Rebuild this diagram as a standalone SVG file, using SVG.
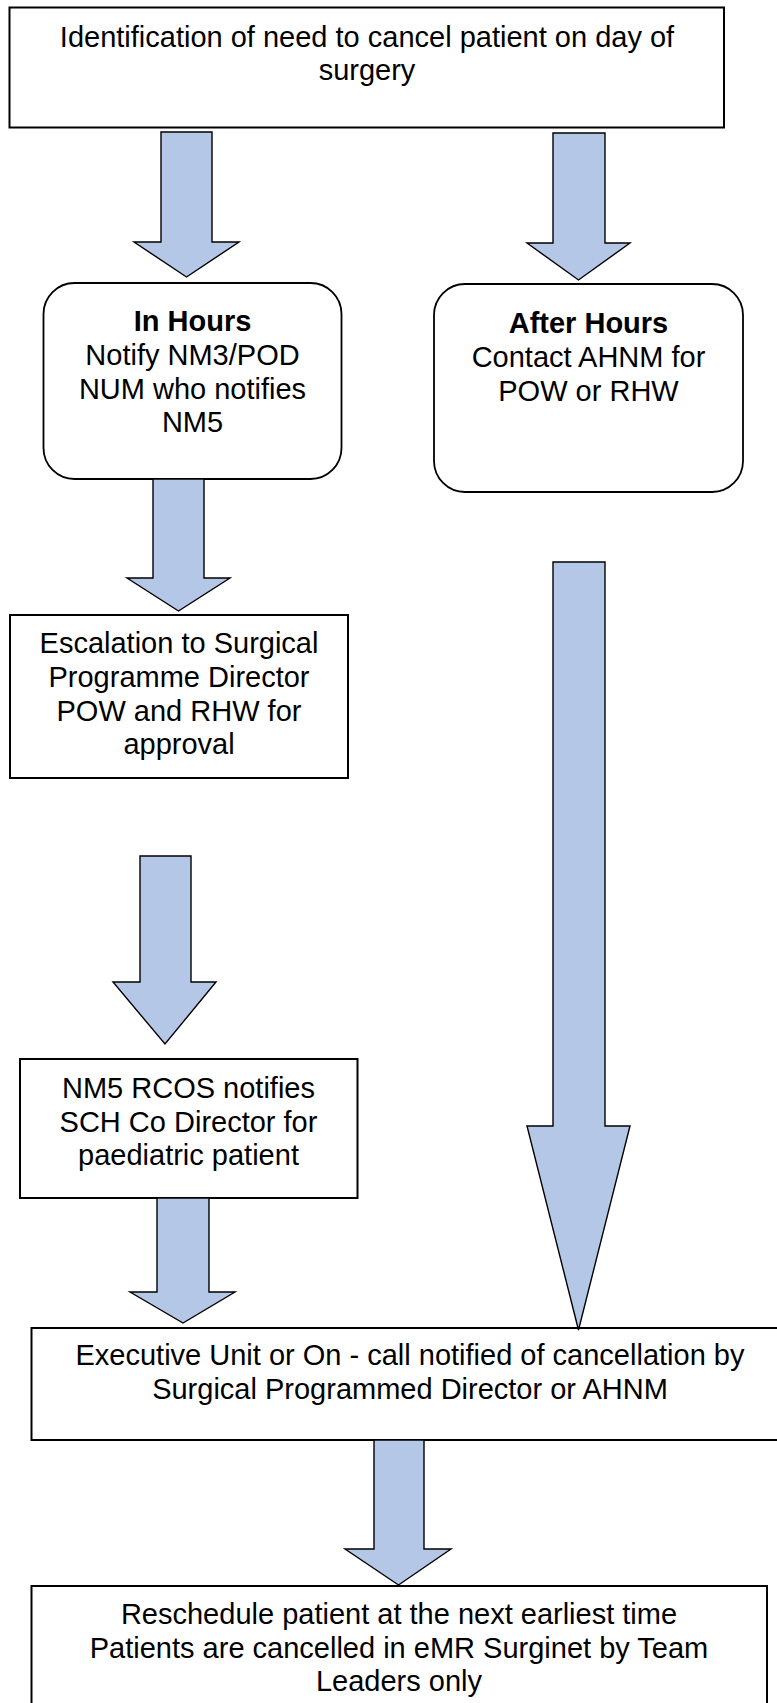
<svg xmlns="http://www.w3.org/2000/svg" width="777" height="1703" viewBox="0 0 777 1703">
<style>
.box{fill:#ffffff;stroke:#000000;stroke-width:2}
.rbox{fill:#ffffff;stroke:#000000;stroke-width:1.8}
.arr{fill:#B4C7E7;stroke:#000000;stroke-width:1.4;stroke-linejoin:miter}
text{font-family:"Liberation Sans",Arial,sans-serif;font-size:29px;fill:#000000;text-anchor:middle}
.b{font-weight:bold}
</style>
<rect width="777" height="1703" fill="#ffffff"/>
<g id="node-identify">
<rect class="box" x="9.5" y="7.5" width="714.5" height="120"/>
<text x="367" y="46.5">Identification of need to cancel patient on day of</text>
<text x="367" y="80">surgery</text>
</g>
<g id="node-inhours">
<rect class="rbox" x="43.5" y="283" width="298" height="196" rx="31" ry="31"/>
<text class="b" x="192.5" y="331">In Hours</text>
<text x="192.5" y="365">Notify NM3/POD</text>
<text x="192.5" y="398.5">NUM who notifies</text>
<text x="192.5" y="432">NM5</text>
</g>
<g id="node-afterhours">
<rect class="rbox" x="434" y="284" width="309" height="208" rx="31" ry="31"/>
<text class="b" x="588.5" y="333">After Hours</text>
<text x="588.5" y="367">Contact AHNM for</text>
<text x="588.5" y="400.5">POW or RHW</text>
</g>
<g id="node-escalation">
<rect class="box" x="10" y="615" width="338" height="163"/>
<text x="179" y="653">Escalation to Surgical</text>
<text x="179" y="687">Programme Director</text>
<text x="179" y="720.5">POW and RHW for</text>
<text x="179" y="754">approval</text>
</g>
<g id="node-nm5">
<rect class="box" x="20" y="1059" width="337.5" height="139"/>
<text x="188.5" y="1098">NM5 RCOS notifies</text>
<text x="188.5" y="1131.5">SCH Co Director for</text>
<text x="188.5" y="1165">paediatric patient</text>
</g>
<g id="node-executive">
<rect class="box" x="31.5" y="1328" width="758" height="112"/>
<text x="410" y="1365">Executive Unit or On - call notified of cancellation by</text>
<text x="410" y="1399">Surgical Programmed Director or AHNM</text>
</g>
<g id="node-reschedule">
<rect class="box" x="31.5" y="1586" width="735.5" height="130"/>
<text x="399" y="1624">Reschedule patient at the next earliest time</text>
<text x="399" y="1657.5">Patients are cancelled in eMR Surginet by Team</text>
<text x="399" y="1691">Leaders only</text>
</g>
<g id="connectors">
<polygon class="arr" points="161,132 212,132 212,242 239,242 186.5,277 134,242 161,242"/>
<polygon class="arr" points="553,133 605,133 605,243 630,243 578.5,280 527,243 553,243"/>
<polygon class="arr" points="153,479 204,479 204,578 230,578 178.5,611 127,578 153,578"/>
<polygon class="arr" points="553,562 605,562 605,1126 630,1126 578.5,1330 527,1126 553,1126"/>
<polygon class="arr" points="140,856 191,856 191,982 216,982 165,1044 113,982 140,982"/>
<polygon class="arr" points="157,1198 209,1198 209,1292 235,1292 183,1323 130,1292 157,1292"/>
<polygon class="arr" points="374,1440 424,1440 424,1549 451,1549 398.5,1585 345,1549 374,1549"/>
</g>
</svg>
